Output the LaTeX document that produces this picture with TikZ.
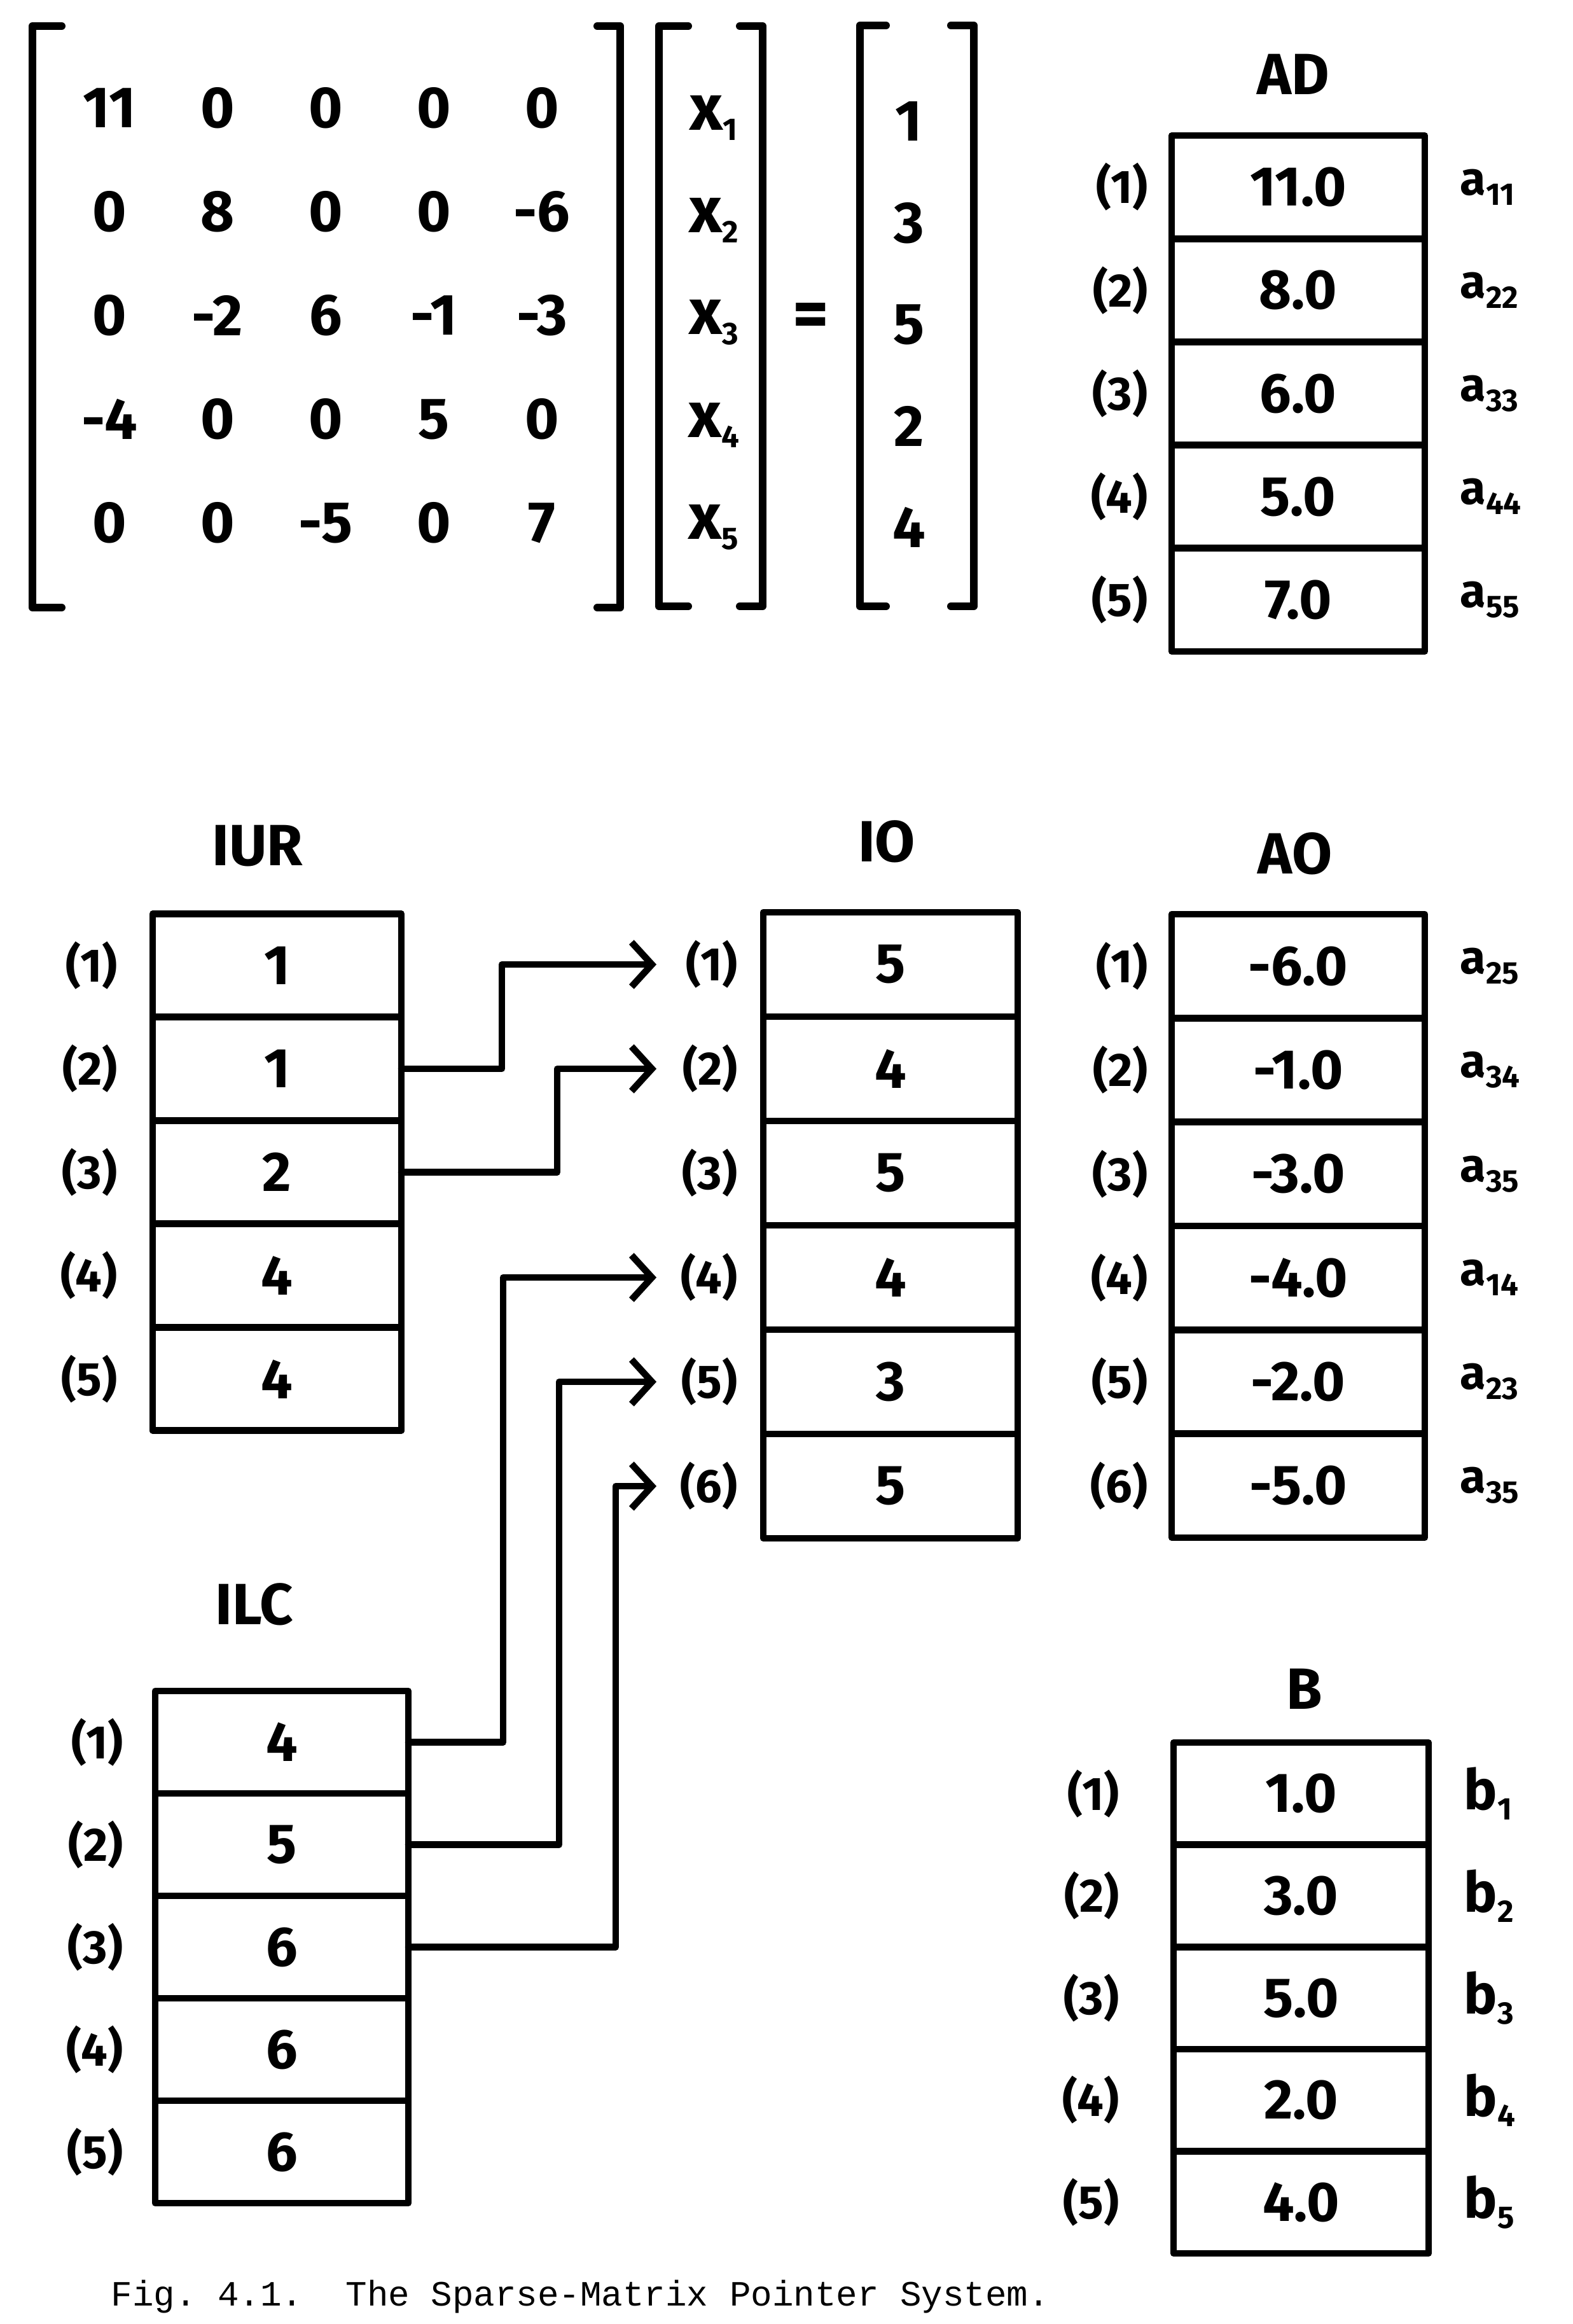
\documentclass[tikz,border=0pt]{standalone}
\usepackage{fontspec}
\setmainfont{Fira Sans}
\newfontfamily\figcapfont{Liberation Mono}
\usetikzlibrary{arrows.meta, calc, positioning}
\newcommand{\lowsub}[1]{\raisebox{-0.16cm}{\fontsize{14}{14}\selectfont #1}}

\begin{document}
\begin{tikzpicture}[
    line cap=round, line join=round,
    cell/.style={draw, line width=3pt, minimum width=3.98cm, minimum height=1.62cm,
      inner sep=0pt, outer sep=0pt, font=\fontsize{25}{25}\selectfont\bfseries},
    idx/.style={inner sep=0pt, font=\fontsize{21}{21}\selectfont\bfseries},
    elem/.style={inner sep=0pt, font=\fontsize{21}{21}\selectfont\bfseries},
    heading/.style={font=\fontsize{26}{26}\selectfont\bfseries},
    entry/.style={font=\fontsize{26}{26}\selectfont\bfseries},
    brk/.style={line width=3.4pt},
    ptr/.style={line width=3pt, -{Straight Barb[length=3.2mm, width=7mm]}}
]
\useasboundingbox (0,0) rectangle (24.73,-36.53);

% Matrix equation
\foreach \row [count=\r] in {{11,0,0,0,0},{0,8,0,0,-6},{0,-2,6,-1,-3},{-4,0,0,5,0},{0,0,-5,0,7}}{
  \foreach \v [count=\c] in \row {
    \node[entry] (m\r\c) at ({1.72+(\c-1)*1.70},{-1.70-(\r-1)*1.63}) {\v};
  }
}
\foreach \i in {1,...,5}
  \node[entry, font=\fontsize{29}{29}\selectfont\bfseries] (x\i) at (11.22,{-1.85-(\i-1)*1.61}) {x\lowsub{\i}};
\foreach \v [count=\i] in {1,3,5,2,4}
  \node[entry] (rhs\i) at (14.29,{-1.91-(\i-1)*1.595}) {\v};
\node[entry, font=\fontsize{31}{31}\selectfont\bfseries] (eq) at (12.75,-5.03) {=};

% Brackets
\draw[brk] (0.97,-0.41) -- (0.51,-0.41) -- (0.51,-9.55) -- (0.97,-9.55);
\draw[brk] (9.39,-0.41) -- (9.75,-0.41) -- (9.75,-9.55) -- (9.39,-9.55);
\draw[brk] (10.82,-0.41) -- (10.36,-0.41) -- (10.36,-9.53) -- (10.82,-9.53);
\draw[brk] (11.63,-0.41) -- (11.99,-0.41) -- (11.99,-9.53) -- (11.63,-9.53);
\draw[brk] (13.93,-0.40) -- (13.52,-0.40) -- (13.52,-9.53) -- (13.93,-9.53);
\draw[brk] (14.95,-0.40) -- (15.31,-0.40) -- (15.31,-9.53) -- (14.95,-9.53);

% AD
\node[heading] (adT) at (20.33,-1.17) {AD};
\foreach \v/\s [count=\i] in {11.0/11, 8.0/22, 6.0/33, 5.0/44, 7.0/55}{
  \node[cell] (ad\i) at (20.41,{-2.13-(\i-0.5)*1.622}) {\v};
  \node[idx, left=0.37cm of ad\i] (adL\i) {(\i)};
  \node[elem, right=0.55cm of ad\i] (adE\i) {a\lowsub{\s}};
}

% IUR
\node[heading] (iurT) at (4.05,-13.30) {IUR};
\foreach \v [count=\i] in {1,1,2,4,4}{
  \node[cell, minimum width=3.91cm] (iur\i) at (4.355,{-14.36-(\i-0.5)*1.626}) {\v};
  \node[idx, left=0.55cm of iur\i] (iurL\i) {(\i)};
}

% IO
\node[heading] (ioT) at (13.94,-13.23) {IO};
\foreach \v [count=\i] in {5,4,5,4,3,5}{
  \node[cell, minimum width=4.0cm, minimum height=1.64cm] (io\i) at (14.0,{-14.34-(\i-0.5)*1.64}) {\v};
  \node[idx, left=0.4cm of io\i] (ioL\i) {(\i)};
}

% AO
\node[heading] (aoT) at (20.36,-13.42) {AO};
\foreach \v/\s [count=\i] in {-6.0/25, -1.0/34, -3.0/35, -4.0/14, -2.0/23, -5.0/35}{
  \node[cell, minimum height=1.633cm] (ao\i) at (20.41,{-14.37-(\i-0.5)*1.633}) {\v};
  \node[idx, left=0.37cm of ao\i] (aoL\i) {(\i)};
  \node[elem, right=0.55cm of ao\i] (aoE\i) {a\lowsub{\s}};
}

% ILC
\node[heading] (ilcT) at (4.00,-25.22) {ILC};
\foreach \v [count=\i] in {4,5,6,6,6}{
  \node[cell, minimum height=1.61cm] (ilc\i) at (4.43,{-26.58-(\i-0.5)*1.61}) {\v};
  \node[idx, left=0.5cm of ilc\i] (ilcL\i) {(\i)};
}

% B
\node[heading] (bT) at (20.51,-26.55) {B};
\foreach \v [count=\i] in {1.0,3.0,5.0,2.0,4.0}{
  \node[cell, minimum width=4.01cm, minimum height=1.606cm] (b\i) at (20.455,{-27.39-(\i-0.5)*1.606}) {\v};
  \node[idx, left=0.85cm of b\i] (bL\i) {(\i)};
  \node[elem, font=\fontsize{25}{25}\selectfont\bfseries, right=0.55cm of b\i] (bE\i) {b\lowsub{\i}};
}

% Pointers into IO
\coordinate (tipx) at (10.32,0);
\draw[ptr] (iur2.east) -- ++(1.58,0) |- (tipx |- io1);
\draw[ptr] (iur3.east) -- ++(2.45,0) |- (tipx |- io2);
\draw[ptr] (ilc1.east) -- ++(1.49,0) |- (tipx |- io4);
\draw[ptr] (ilc2.east) -- ++(2.37,0) |- (tipx |- io5);
\draw[ptr] (ilc3.east) -- ++(3.26,0) |- (tipx |- io6);

% Caption
\node[anchor=west, inner sep=0pt, font=\figcapfont\fontsize{15.9}{16}\selectfont] (caption) at (1.74,-36.10)
  {Fig.\ 4.1.\ \ The Sparse-Matrix Pointer System.};
\end{tikzpicture}
\end{document}
